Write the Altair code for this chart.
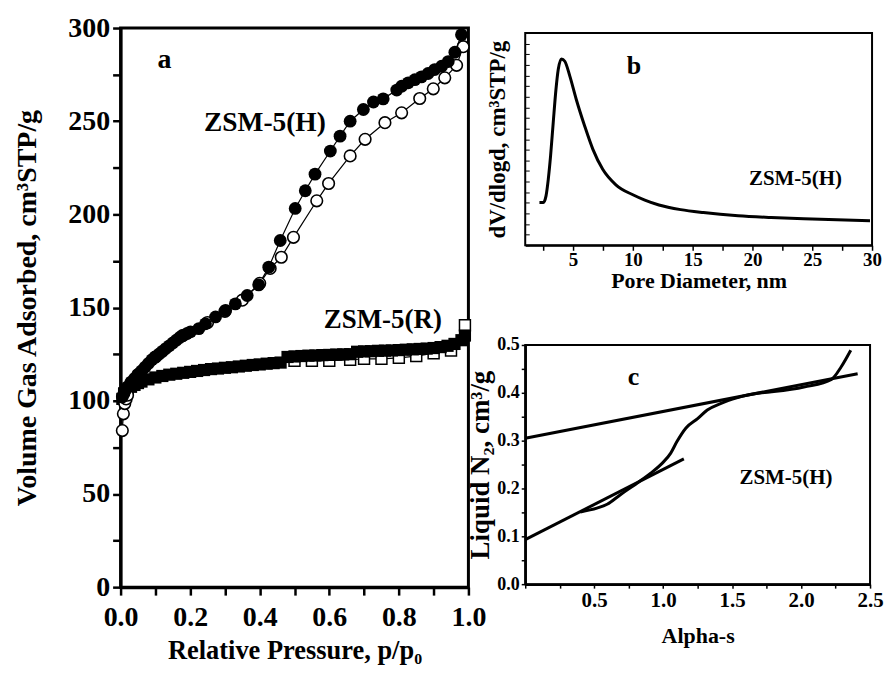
import altair as alt
import pandas as pd

FONT = "Liberation Serif"

# ---------------- Panel a : N2 isotherms ----------------
h_ads_x = [0.005, 0.01, 0.015, 0.02, 0.03, 0.04, 0.05, 0.06, 0.07, 0.08, 0.09, 0.10, 0.11, 0.12,
           0.13, 0.14, 0.15, 0.16, 0.17, 0.18, 0.19, 0.201, 0.225, 0.244, 0.273, 0.302, 0.330,
           0.364, 0.397, 0.426, 0.459, 0.502, 0.531, 0.559, 0.603, 0.631, 0.660, 0.698, 0.727,
           0.755, 0.794, 0.808, 0.827, 0.846, 0.865, 0.884, 0.903, 0.923, 0.942, 0.961, 0.980]
h_ads_y = [102, 104, 106, 107.5, 110, 112, 114, 116, 118, 120, 122, 123.5, 125, 126.5,
           128, 129.5, 131, 132.5, 134, 135, 136, 137, 138.7, 141.3, 145, 148.5, 152,
           156.5, 162.2, 171.7, 186, 203.2, 212.7, 221.6, 234, 242, 250, 256.3, 260.3,
           262, 266.7, 268.8, 270.6, 272.3, 273.8, 275.6, 277.7, 279.5, 282, 287, 296.4]

h_des_x = [0.005, 0.008, 0.012, 0.016, 0.02, 0.05, 0.10, 0.178, 0.25, 0.30, 0.35, 0.40, 0.43,
           0.462, 0.497, 0.564, 0.598, 0.660, 0.703, 0.760, 0.808, 0.860, 0.899, 0.932, 0.966, 0.985]
h_des_y = [84, 93, 98.5, 101, 103, 114, 123.5, 135, 142, 148, 154, 163, 171,
           177, 187.7, 207.3, 216.6, 231.4, 240.3, 249.2, 254.5, 262.2, 267.4, 273.3, 280, 290]

r_ads_x = [0.005, 0.01, 0.02, 0.03, 0.04, 0.05, 0.06, 0.08, 0.10, 0.12, 0.14, 0.16, 0.18, 0.20,
           0.22, 0.24, 0.26, 0.28, 0.30, 0.32, 0.34, 0.36, 0.38, 0.40, 0.42, 0.44, 0.46, 0.48,
           0.50, 0.52, 0.54, 0.56, 0.58, 0.60, 0.62, 0.64, 0.66, 0.68, 0.70, 0.72, 0.74, 0.76,
           0.78, 0.80, 0.82, 0.84, 0.86, 0.88, 0.90, 0.92, 0.94, 0.96, 0.98, 0.99]
r_ads_y = [101, 104, 106, 107.5, 108.5, 109.5, 110.3, 111.5, 112.5, 113.3, 114, 114.5, 115, 115.5,
           116, 116.5, 117, 117.3, 117.7, 118, 118.4, 118.8, 119.2, 119.5, 119.9, 120.2, 120.5, 123.5,
           123.8, 124, 124.2, 124.3, 124.5, 124.6, 124.8, 124.9, 125, 126.3, 126.5, 126.6, 126.8, 126.9,
           127, 127.2, 127.4, 127.6, 127.8, 128, 128.3, 128.8, 129.5, 130.5, 132.5, 135]

r_des_x = [0.50, 0.55, 0.60, 0.66, 0.70, 0.75, 0.80, 0.85, 0.90, 0.95, 0.99]
r_des_y = [121.5, 121.5, 121.5, 122, 122.5, 122.5, 123, 124, 125.5, 127, 140.5]

# ---------------- Panel b : pore size distribution ----------------
b_x = [2.19, 2.52, 2.74, 2.93, 3.12, 3.34, 3.57, 3.76, 4.03, 4.31, 4.73, 5.27, 5.97, 6.66,
       7.48, 8.58, 10.0, 11.0, 12.18, 14.0, 15.9, 18.8, 21.56, 24.3, 29.83]
b_y = [20.2, 20.2, 23.3, 31.2, 42.1, 57.7, 73.4, 82.8, 87.8, 86.7, 79.7, 68.7, 56.2, 45.2,
       35.8, 28.5, 23.8, 21.3, 19.0, 16.8, 15.4, 13.9, 13.1, 12.5, 11.6]

# ---------------- Panel c : alpha-s plot ----------------
c_x = [0.40, 0.52, 0.594, 0.69, 0.81, 0.91, 0.994, 1.055, 1.10, 1.164, 1.25, 1.32, 1.42, 1.54,
       2.02, 2.22, 2.29, 2.36]
c_y = [0.151, 0.159, 0.167, 0.187, 0.211, 0.232, 0.253, 0.274, 0.298, 0.326, 0.346, 0.364, 0.378,
       0.390, 0.412, 0.428, 0.454, 0.489]
fit_hi_x = [0.0, 2.41]
fit_hi_y = [0.305, 0.440]
fit_lo_x = [0.0, 1.15]
fit_lo_y = [0.093, 0.262]

# ---------------- annotations ----------------
ann_a = pd.DataFrame({"x": [0.126, 0.415, 0.754], "y": [283, 249, 143.3],
                      "t": ["a", "ZSM-5(H)", "ZSM-5(R)"], "fs": [28, 27.5, 27]})
ann_b = pd.DataFrame({"x": [10.1, 23.6], "y": [84.5, 31], "t": ["b", "ZSM-5(H)"], "fs": [26, 21]})
ann_c = pd.DataFrame({"x": [0.785, 1.89], "y": [0.433, 0.221], "t": ["c", "ZSM-5(H)"], "fs": [26, 21]})


def frame(xs, ys, name):
    return pd.DataFrame({"x": xs, "y": ys, "s": name})


df_a = pd.concat([frame(h_ads_x, h_ads_y, "H_ads"), frame(h_des_x, h_des_y, "H_des"),
                  frame(r_ads_x, r_ads_y, "R_ads"), frame(r_des_x, r_des_y, "R_des")])
df_b = frame(b_x, b_y, "psd")
df_c = pd.concat([frame(c_x, c_y, "curve"), frame(fit_hi_x, fit_hi_y, "fit_hi"),
                  frame(fit_lo_x, fit_lo_y, "fit_lo")])

axis_common = dict(grid=False, labelFont=FONT, titleFont=FONT, labelFontWeight="bold",
                   titleFontWeight="bold", labelColor="black", titleColor="black",
                   tickColor="black", domainColor="black", labelOverlap=False, labelFlush=False)

# ---- panel a axes ----
ax_a_x = alt.X("x:Q", scale=alt.Scale(domain=[0, 1], nice=False, zero=False),
               axis=alt.Axis(title="Relative Pressure, p/p₀",
                             values=[round(i / 10, 1) for i in range(11)],
                             labelExpr="round(datum.value*10) % 2 == 0 ? format(datum.value, '.1f') : ''",
                             labelFontSize=28, titleFontSize=26.5, tickSize=8, tickWidth=2.5,
                             domainWidth=3, labelPadding=8, minExtent=44, maxExtent=44,
                             titlePadding=7, **axis_common))
ax_a_y = alt.Y("y:Q", scale=alt.Scale(domain=[0, 300], nice=False, zero=False),
               axis=alt.Axis(title="Volume Gas Adsorbed, cm³STP/g",
                             values=list(range(0, 301, 25)),
                             labelExpr="datum.value % 50 == 0 ? datum.label : ''",
                             labelFontSize=28, titleFontSize=28, tickSize=8, tickWidth=2.5,
                             domainWidth=3, labelPadding=3, minExtent=53, maxExtent=53,
                             titlePadding=26, **axis_common))

base_a = alt.Chart(df_a).encode(x=ax_a_x, y=ax_a_y)
lines_a = base_a.mark_line(color="black", strokeWidth=1.2).encode(detail="s:N")
r_open = base_a.transform_filter(alt.datum.s == "R_des").mark_square(
    size=120, fill="white", stroke="black", strokeWidth=1.5, opacity=1)
r_fill = base_a.transform_filter(alt.datum.s == "R_ads").mark_square(
    size=150, color="black", opacity=1)
h_open = base_a.transform_filter(alt.datum.s == "H_des").mark_circle(
    size=135, fill="white", stroke="black", strokeWidth=1.6, opacity=1)
h_fill = base_a.transform_filter(alt.datum.s == "H_ads").mark_circle(
    size=165, color="black", opacity=1)
text_a = alt.Chart(ann_a).mark_text(font=FONT, fontWeight="bold", color="black").encode(
    x=ax_a_x, y=ax_a_y, text="t:N", size=alt.Size("fs:Q", scale=None))

panel_a = alt.layer(lines_a, r_open, r_fill, h_open, h_fill, text_a).properties(
    width=349, height=561, view=alt.ViewBackground(stroke="black", strokeWidth=3))

# ---- panel b ----
ax_b_x = alt.X("x:Q", scale=alt.Scale(domain=[1, 30], nice=False, zero=False),
               axis=alt.Axis(title="Pore Diameter, nm",
                             values=[2.5 * i for i in range(1, 13)],
                             labelExpr="datum.value % 5 == 0 ? format(datum.value, 'd') : ''",
                             labelFontSize=19, titleFontSize=22, tickSize=5, tickWidth=1.5,
                             domainWidth=2, labelPadding=0, minExtent=24, maxExtent=24,
                             titlePadding=1, **axis_common))
ax_b_y = alt.Y("y:Q", scale=alt.Scale(domain=[0, 100], nice=False, zero=False),
               axis=alt.Axis(title="dV/dlogd, cm³STP/g", values=list(range(0, 101, 5)),
                             labels=False, domain=False, offset=-4,
                             titleFontSize=23, tickSize=4, tickWidth=1,
                             minExtent=4, maxExtent=4, titlePadding=16, **axis_common))
line_b = alt.Chart(df_b).mark_line(color="black", strokeWidth=3, interpolate="monotone").encode(
    x=ax_b_x, y=ax_b_y)
text_b = alt.Chart(ann_b).mark_text(font=FONT, fontWeight="bold", color="black").encode(
    x=ax_b_x, y=ax_b_y, text="t:N", size=alt.Size("fs:Q", scale=None))
panel_b = alt.layer(line_b, text_b).properties(
    width=348, height=213, view=alt.ViewBackground(stroke="black", strokeWidth=2))

# ---- panel c ----
ax_c_x = alt.X("x:Q", scale=alt.Scale(domain=[0, 2.5], nice=False, zero=False),
               axis=alt.Axis(title="Alpha-s", values=[round(0.25 * i, 2) for i in range(11)],
                             labelExpr="(datum.value > 0 && abs(datum.value*2 - round(datum.value*2)) < 0.001) ? format(datum.value, '.1f') : ''",
                             labelFontSize=21, titleFontSize=22, tickSize=4, tickWidth=1.5,
                             domainWidth=2.5, labelPadding=1, minExtent=26, maxExtent=26,
                             titlePadding=16, **axis_common))
ax_c_y = alt.Y("y:Q", scale=alt.Scale(domain=[0, 0.5], nice=False, zero=False),
               axis=alt.Axis(title="Liquid N₂, cm³/g", values=[round(0.05 * i, 2) for i in range(11)],
                             labelExpr="abs(datum.value*10 - round(datum.value*10)) < 0.001 ? format(datum.value, '.1f') : ''",
                             labelFontSize=18, titleFontSize=27, tickSize=4, tickWidth=1.5,
                             domainWidth=2.5, labelPadding=2, minExtent=29, maxExtent=29,
                             titlePadding=2, **axis_common))
base_c = alt.Chart(df_c).encode(x=ax_c_x, y=ax_c_y)
fits_c = base_c.transform_filter(alt.datum.s != "curve").mark_line(
    color="black", strokeWidth=3).encode(detail="s:N")
curve_c = base_c.transform_filter(alt.datum.s == "curve").mark_line(
    color="black", strokeWidth=3, interpolate="monotone")
text_c = alt.Chart(ann_c).mark_text(font=FONT, fontWeight="bold", color="black").encode(
    x=ax_c_x, y=ax_c_y, text="t:N", size=alt.Size("fs:Q", scale=None))
panel_c = alt.layer(fits_c, curve_c, text_c).properties(
    width=346, height=240, view=alt.ViewBackground(stroke="black", strokeWidth=2))

spacer = alt.Chart(pd.DataFrame({"v": [0]})).mark_point(opacity=0).encode(
    x=alt.X("v:Q", axis=None), y=alt.Y("v:Q", axis=None)).properties(
    width=1, height=5, view=alt.ViewBackground(strokeWidth=0, strokeOpacity=0))

right = alt.vconcat(spacer, alt.vconcat(panel_b, panel_c, spacing=100, bounds="flush"),
                    spacing=0, bounds="flush")

chart = alt.hconcat(panel_a, right, spacing=57, bounds="flush").resolve_scale(
    x="independent", y="independent").properties(
    padding={"left": 12, "top": 11, "right": 0, "bottom": 0},
    background="white")

chart.save("out.html", embed_options={"renderer": "svg", "actions": False})
